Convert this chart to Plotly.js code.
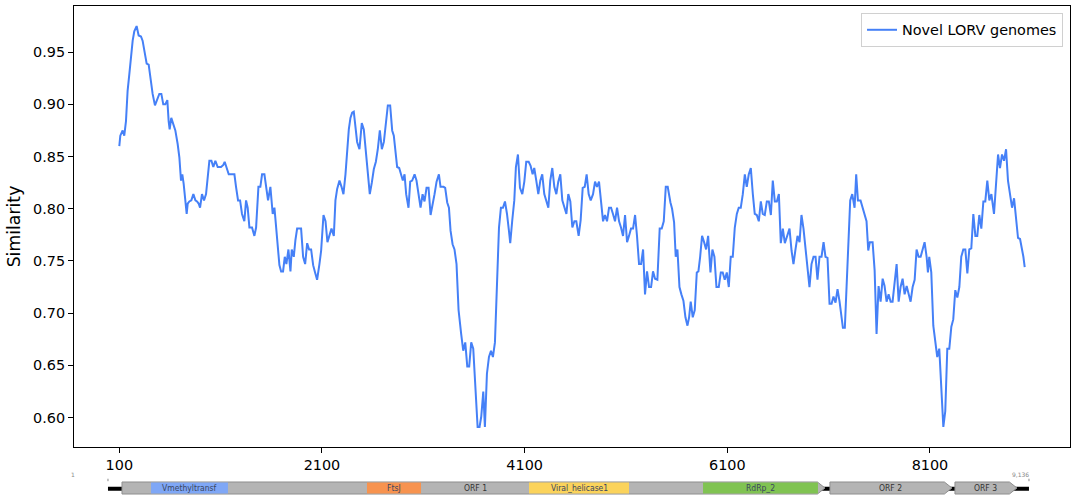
<!DOCTYPE html>
<html>
<head>
<meta charset="utf-8">
<script src="https://cdn.plot.ly/plotly-3.0.1.min.js"></script>
<style>html,body{margin:0;padding:0;background:#fff;}#chart{width:1079px;height:501px;}</style>
</head>
<body>
<div id="chart"></div>
<script>
// ---- Similarity profile (position along genome, similarity) ----
const posSeg1 = [100,110,133,149,166,182,199,215,232,248,
  271,291,314,330,347,370,390,413,429,452,
  479,495,515,534,554,574,587,597,613,633,
  653,676,693,709,722,735,752,765,775,791,
  811,831,851,867,883,897,916,936,956,972,
  989,1009,1028,1048,1071,1104,1127,1140,1160,1180,
  1213,1236,1252,1272,1292,1311,1334,1351,1367,1384,
  1410,1433,1450,1473,1492,1509,1532,1548,1568,1591,
  1614,1631,1647,1664,1680,1697,1716,1733,1749,1769,
  1789,1802,1822,1838,1855,1871];
const simSeg1 = [.860,.870,.875,.870,.884,.913,.929,.945,.961,.970,
  .975,.966,.965,.961,.953,.939,.938,.919,.910,.899,
  .905,.910,.910,.900,.900,.904,.884,.876,.887,.881,
  .875,.862,.849,.827,.833,.824,.809,.795,.805,.807,
  .808,.814,.808,.807,.805,.801,.814,.808,.814,.833,
  .846,.846,.840,.846,.840,.840,.842,.845,.838,.833,
  .833,.833,.821,.808,.808,.795,.788,.808,.801,.782,
  .782,.774,.782,.821,.821,.833,.833,.821,.808,.821,
  .795,.801,.782,.763,.746,.740,.740,.754,.747,.761,
  .740,.761,.754,.770,.781,.781];

const posSeg2 = [1894,1914,1934,1954,1973,1993,2013,2032,2052,2075,
  2092,2115,2135,2154,2174,2194,2217,2233,2250,2273,
  2293,2312,2332,2349,2365,2381,2398,2414,2431,2447,
  2470,2493,2513,2533,2553,2572,2592,2612,2632,2651,
  2671,2691,2711,2730,2750,2773,2793,2809,2826,2842,
  2862,2882,2898,2915,2931,2954,2971,2990,3014,3033,
  3053,3073,3093,3112,3132,3152,3172,3191,3211,3231,
  3254,3270,3300,3316,3336,3353,3369,3389,3408,3428,
  3448,3474,3494,3514,3534,3553,3573,3593,3613,3636,
  3655,3672,3692];
const simSeg2 = [.781,.754,.747,.767,.761,.761,.746,.739,.732,.747,
  .760,.794,.788,.768,.774,.781,.774,.808,.819,.827,
  .821,.814,.833,.859,.876,.887,.892,.893,.875,.864,
  .857,.882,.876,.857,.838,.814,.825,.838,.845,.857,
  .875,.857,.864,.884,.899,.899,.875,.870,.852,.840,
  .839,.833,.827,.833,.814,.801,.826,.827,.833,.827,
  .814,.801,.814,.807,.820,.820,.794,.806,.814,.826,
  .833,.821,.821,.820,.806,.801,.779,.766,.761,.747,
  .703,.680,.664,.672,.649,.649,.672,.666,.636,.591,
  .591,.601,.625];

const posSeg3 = [3708,3728,3748,3768,3787,3807,3827,3847,3866,3886,
  3906,3926,3945,3958,3978,3998,4014,4034,4054,4077,
  4097,4116,4140,4159,4179,4195,4215,4235,4255,4274,
  4294,4314,4334,4353,4373,4393,4413,4432,4452,4472,
  4492,4512,4531,4551,4571,4591,4610,4633,4653,4673,
  4693,4712,4732,4752,4775,4795,4814,4834,4854,4874,
  4893,4913,4933,4953,4972,4992,5012,5032,5051,5071,
  5091,5111,5130,5150,5170,5190,5209,5229,5249,5269,
  5288,5308,5328,5348,5367,5387,5410,5433,5453,5473,
  5493,5512];
const simSeg3 = [.591,.642,.658,.664,.658,.672,.722,.782,.801,.801,
  .807,.795,.779,.767,.789,.808,.840,.852,.820,.814,
  .826,.845,.845,.841,.833,.839,.827,.814,.827,.833,
  .814,.808,.801,.827,.839,.821,.814,.826,.833,.808,
  .801,.795,.814,.807,.782,.788,.788,.774,.789,.820,
  .821,.833,.814,.808,.814,.826,.821,.826,.807,.788,
  .794,.788,.801,.801,.795,.788,.801,.788,.782,.774,
  .794,.768,.774,.781,.781,.794,.774,.747,.747,.761,
  .718,.740,.725,.725,.740,.733,.732,.781,.781,.788,
  .821,.821];

const posSeg4 = [5539,5555,5575,5591,5608,5628,5647,5667,5687,5707,
  5723,5739,5759,5779,5799,5815,5832,5851,5871,5891,
  5911,5934,5953,5973,5993,6016,6036,6055,6075,6095,
  6115,6134,6154,6174,6194,6213,6233,6253,6273,6292,
  6312,6332,6352,6371,6391,6411,6431,6450,6470,6490,
  6510,6530,6549,6569,6589,6609,6628,6648,6668,6688,
  6714,6734,6753,6773,6793,6813,6832,6852,6872,6892,
  6911,6931,6951,6971,6990,7010,7030,7050,7069,7089,
  7109,7129,7148,7168,7188,7208,7227,7241,7260,7280,
  7300,7313,7333];
const simSeg4 = [.806,.800,.787,.754,.761,.725,.718,.712,.696,.688,
  .696,.711,.696,.703,.739,.740,.754,.774,.768,.761,
  .774,.739,.761,.754,.725,.725,.739,.739,.732,.739,
  .725,.754,.754,.782,.795,.801,.801,.814,.833,.821,
  .833,.839,.814,.795,.794,.788,.807,.795,.794,.807,
  .807,.794,.827,.807,.807,.814,.767,.781,.767,.774,
  .781,.760,.747,.761,.774,.768,.794,.781,.761,.739,
  .725,.747,.754,.754,.732,.754,.754,.768,.754,.753,
  .709,.709,.716,.710,.723,.711,.696,.686,.686,.739,
  .781,.808,.814];

const posSeg5 = [7356,7372,7389,7415,7435,7455,7474,7491,7507,7534,
  7554,7573,7593,7613,7633,7652,7672,7692,7712,7731,
  7751,7771,7791,7810,7830,7850,7870,7889,7909,7929,
  7949,7968,7988,8008,8028,8047,8067,8080,8093,8113,
  8133,8153,8172,8192,8212,8232,8251,8271,8291,8311,
  8330,8350,8370,8390,8409,8429,8449,8469,8488,8508,
  8528,8548,8567,8587,8607,8627,8646,8666,8686,8706,
  8732,8752,8772,8791,8811,8831,8851,8870,8890,8910,
  8930,8949,8969,8989,9009,9022,9035];
const simSeg5 = [.801,.833,.808,.808,.801,.794,.788,.760,.768,.768,
  .741,.680,.726,.711,.733,.726,.711,.718,.711,.711,
  .733,.747,.711,.725,.733,.718,.726,.718,.711,.725,
  .732,.761,.754,.754,.761,.768,.754,.739,.754,.739,
  .688,.674,.658,.666,.631,.591,.606,.666,.666,.687,
  .694,.722,.715,.725,.754,.761,.761,.738,.761,.762,
  .795,.774,.774,.794,.781,.807,.807,.827,.808,.814,
  .795,.827,.852,.839,.852,.846,.857,.827,.814,.801,
  .810,.792,.772,.771,.761,.754,.744];

const xTickVals = [100, 2100, 4100, 6100, 8100];
const yTickVals = [0.60, 0.65, 0.70, 0.75, 0.80, 0.85, 0.90, 0.95];
const seriesName = 'Novel LORV genomes';

// ---- Genome map ----
const genomeLength = 9136;
const orfNames = ['ORF 1', 'ORF 2', 'ORF 3'];
const orfStart = [140, 7162, 8402];
const orfEnd = [7113, 8372, 9017];
const domainNames = ['Vmethyltransf', 'FtsJ', 'Viral_helicase1', 'RdRp_2'];
const domainStart = [428, 2570, 4177, 5903];
const domainEnd = [1191, 3106, 5169, 7043];
const domainColors = ['#7fa7f6', '#f7934f', '#fbd35b', '#80c352'];

const positions = [].concat(posSeg1, posSeg2, posSeg3, posSeg4, posSeg5);
const similarity = [].concat(simSeg1, simSeg2, simSeg3, simSeg4, simSeg5);

const FONT = 'DejaVu Sans, sans-serif';
const trace = {
  x: positions, y: similarity, type: 'scatter', mode: 'lines',
  name: seriesName, line: {color: '#4580f7', width: 2},
  xaxis: 'x', yaxis: 'y', hoverinfo: 'skip'
};

// genome map geometry in y2 units
const yb = 0.141, yt = 0.384, ym = 0.2626;
const head = 75;
const shapes = [];
shapes.push({type: 'rect', xref: 'x2', yref: 'y2', x0: 1, x1: genomeLength, y0: 0.205, y1: 0.29,
  fillcolor: '#000', line: {width: 0}, layer: 'above'});
for (let i = 0; i < orfNames.length; i++) {
  const a = orfStart[i], b = orfEnd[i], h = b - head;
  shapes.push({type: 'path', xref: 'x2', yref: 'y2',
    path: `M ${a},${yb} L ${h},${yb} L ${b},${ym} L ${h},${yt} L ${a},${yt} Z`,
    fillcolor: '#b4b4b4', line: {color: '#8f8f8f', width: 1}, layer: 'above'});
}
for (let i = 0; i < domainNames.length; i++) {
  shapes.push({type: 'rect', xref: 'x2', yref: 'y2', x0: domainStart[i], x1: domainEnd[i], y0: yb + 0.01, y1: yt - 0.01,
    fillcolor: domainColors[i], line: {width: 0}, layer: 'above'});
}
// small end ticks
[1, genomeLength].forEach(p => shapes.push({type: 'line', xref: 'x2', yref: 'y2', x0: p, x1: p, y0: 0.40, y1: 0.45,
  line: {color: '#888', width: 1}, layer: 'above'}));

const annotations = [];
for (let i = 0; i < orfNames.length; i++) {
  let cx = (orfStart[i] + orfEnd[i]) / 2;
  if (i === 0) cx = (domainEnd[1] + domainStart[2]) / 2;
  annotations.push({xref: 'x2', yref: 'y2', x: cx, y: ym, text: orfNames[i], showarrow: false,
    font: {family: 'DejaVu Sans Condensed, DejaVu Sans', size: 8.5, color: '#333'}});
}
for (let i = 0; i < domainNames.length; i++) {
  annotations.push({xref: 'x2', yref: 'y2', x: (domainStart[i] + domainEnd[i]) / 2, y: ym, text: domainNames[i], showarrow: false,
    font: {family: 'DejaVu Sans Condensed, DejaVu Sans', size: 8.5, color: '#3a4660'}});
}
annotations.push({xref: 'x2', yref: 'y2', x: 1, y: 0.53, xshift: -35, text: '1', showarrow: false,
  font: {family: FONT, size: 6, color: '#888'}});
annotations.push({xref: 'x2', yref: 'y2', x: genomeLength, y: 0.53, xshift: -8, text: '9,136', showarrow: false,
  font: {family: FONT, size: 6, color: '#888'}});

const layout = {
  width: 1079, height: 501,
  margin: {l: 74, r: 9, t: 6, b: 0, pad: 0},
  paper_bgcolor: '#fff', plot_bgcolor: '#fff',
  font: {family: FONT, size: 14.4, color: '#000'},
  showlegend: true,
  legend: {x: 0.993, xanchor: 'right', y: 0.986, yanchor: 'top', bgcolor: '#fff',
    bordercolor: '#d0d0d0', borderwidth: 1, font: {family: FONT, size: 14.4, color: '#000'}},
  xaxis: {domain: [0, 1], range: [-347, 9482], anchor: 'y', tickvals: xTickVals, ticktext: xTickVals.map(String),
    ticks: 'outside', ticklen: 5, tickwidth: 1, tickcolor: '#000', showline: true, mirror: true,
    linecolor: '#000', linewidth: 1, showgrid: false, zeroline: false, tickfont: {size: 14.4}},
  yaxis: {domain: [0.10909, 1], range: [0.5718, 0.9942], anchor: 'x', tickvals: yTickVals, tickformat: '.2f',
    ticks: 'outside', ticklen: 5, tickwidth: 1, tickcolor: '#000', showline: true, mirror: true,
    linecolor: '#000', linewidth: 1, showgrid: false, zeroline: false, tickfont: {size: 14.4},
    title: {text: 'Similarity', font: {size: 17.3}, standoff: 8}},
  xaxis2: {domain: [0, 1], range: [-336, 9543], anchor: 'y2', visible: false, fixedrange: true},
  yaxis2: {domain: [0, 0.1], range: [0, 1], anchor: 'x2', visible: false, fixedrange: true},
  shapes: shapes, annotations: annotations
};

Plotly.newPlot('chart', [trace], layout, {displayModeBar: false, staticPlot: true});
</script>
</body>
</html>
